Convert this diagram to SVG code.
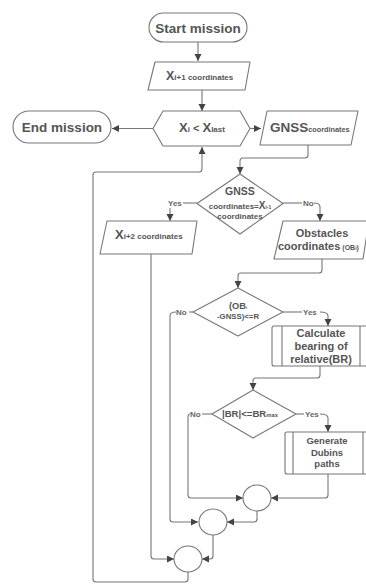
<svg xmlns="http://www.w3.org/2000/svg" width="366" height="584" viewBox="0 0 366 584">
<defs>
<marker id="ah" markerUnits="userSpaceOnUse" markerWidth="8" markerHeight="8" refX="7" refY="3.5" orient="auto">
<path d="M0,0 L7,3.5 L0,7 z" fill="#444"/>
</marker>
<style>
.s{fill:#fff;stroke:#777;stroke-width:1.1;stroke-linejoin:round}
.c{fill:none;stroke:#777;stroke-width:1.1}
.a{marker-end:url(#ah)}
text{font-family:"Liberation Sans",Arial,sans-serif;font-weight:bold;fill:#555}
.m{text-anchor:middle}
.l{font-size:8px;fill:#666}
</style>
</defs>
<rect width="366" height="584" fill="#fff"/>
<g id="connectors">
<path class="c a" d="M198,42 V61"/>
<path class="c a" d="M202,90 V111"/>
<path class="c a" d="M153,128.5 H112"/>
<path class="c a" d="M250,128.5 H261"/>
<path class="c a" d="M308,145 V155 Q308,158 305,158 H243 Q240,158 240,161 V174"/>
<path class="c" d="M197,203 H183"/>
<path class="c a" d="M170,208 V221"/>
<path class="c" d="M283,203 H302"/>
<path class="c a" d="M314,203 Q320,203 320,207 V221"/>
<path class="c a" d="M322,259 V270 Q322,273 319,273 H241 Q238,273 238,276 V288"/>
<path class="c" d="M193,312 H189"/>
<path class="c a" d="M176,312 Q170,312 170,316 V519 Q170,522 173,522 H198"/>
<path class="c" d="M283,312 H302"/>
<path class="c a" d="M320,312 Q328,312 328,316 V326"/>
<path class="c a" d="M320,366 V375 Q320,378 317,378 H256 Q253,378 253,381 V390"/>
<path class="c" d="M212,414 H202"/>
<path class="c a" d="M190,414 Q188,414 188,417 V495 Q188,498 191,498 H243"/>
<path class="c" d="M296,414 H304"/>
<path class="c a" d="M320,414 Q328,414 328,418 V432"/>
<path class="c a" d="M328,474 V495 Q328,498 325,498 H271"/>
<path class="c a" d="M257,511 V519 Q257,522 254,522 H227"/>
<path class="c a" d="M151,254 V556 Q151,559 154,559 H174"/>
<path class="c a" d="M213,535 V556 Q213,559 210,559 H202"/>
<path class="c a" d="M188,572 V579 Q188,582 185,582 H96 Q93,582 93,579 V175 Q93,172 96,172 H199 Q202,172 202,169 V147"/>
<text class="l" x="168" y="206">Yes</text>
<text class="l" x="303" y="206">No</text>
<text class="l" x="176" y="315">No</text>
<text class="l" x="303" y="315">Yes</text>
<text class="l" x="190" y="417">No</text>
<text class="l" x="305" y="417">Yes</text>
</g>
<g id="start">
<rect class="s" x="149" y="13" width="98" height="29" rx="14.5"/>
<text class="m" x="198" y="32.5" font-size="13.5">Start mission</text>
</g>
<g id="xi1">
<polygon class="s" points="155,62 250,62 245,90 148,90"/>
<text x="166" y="80"><tspan font-size="12.5">X</tspan><tspan font-size="8">i+1 coordinates</tspan></text>
</g>
<g id="cond">
<polygon class="s" points="153,128.5 163,111 240,111 250,128.5 240,146 163,146"/>
<text x="179" y="132"><tspan font-size="13">X</tspan><tspan font-size="8">i</tspan><tspan font-size="11"> &lt; </tspan><tspan font-size="13">X</tspan><tspan font-size="8">last</tspan></text>
</g>
<g id="end">
<rect class="s" x="13" y="111" width="98" height="32" rx="16"/>
<text class="m" x="62" y="132" font-size="13.5">End mission</text>
</g>
<g id="gnss">
<polygon class="s" points="267,111 358,111 351,145 260,145"/>
<text x="270" y="132"><tspan font-size="13.5">GNSS</tspan><tspan font-size="7.3">coordinates</tspan></text>
</g>
<g id="d1">
<polygon class="s" points="240,174 283,203.5 240,234 197,203.5"/>
<text class="m" x="240" y="195" font-size="10.5">GNSS</text>
<text class="m" x="240" y="209"><tspan font-size="8">coordinates=</tspan><tspan font-size="10">X</tspan><tspan font-size="5">i-1</tspan></text>
<text class="m" x="240" y="219" font-size="8">coordinates</text>
</g>
<g id="xi2">
<polygon class="s" points="107,221 197,221 192,254 100,254"/>
<text x="115" y="239"><tspan font-size="13">X</tspan><tspan font-size="8">i+2 coordinates</tspan></text>
</g>
<g id="obst">
<polygon class="s" points="283,221 369,221 363,259 274,259"/>
<text class="m" x="322" y="237" font-size="11">Obstacles</text>
<text x="278" y="250"><tspan font-size="11">coordinates</tspan><tspan font-size="7"> (OB</tspan><tspan font-size="5">i</tspan><tspan font-size="7">)</tspan></text>
</g>
<g id="d2">
<polygon class="s" points="238,288 283,312 238,336 193,312"/>
<text class="m" x="238" y="309"><tspan font-size="9.3">(OB</tspan><tspan font-size="4">i</tspan></text>
<text class="m" x="238" y="319" font-size="7.8">-GNSS)&lt;=R</text>
</g>
<g id="calc">
<rect class="s" x="272" y="326" width="100" height="40" rx="2"/>
<path class="c" d="M282,326 V366 M360,326 V366"/>
<text class="m" x="321" y="337" font-size="11">Calculate</text>
<text class="m" x="321" y="350" font-size="11">bearing of</text>
<text class="m" x="321" y="363" font-size="11">relative(BR)</text>
</g>
<g id="d3">
<polygon class="s" points="253,390 296,414 253,438 212,414"/>
<text x="222" y="417"><tspan font-size="9.6">|BR|&lt;=BR</tspan><tspan font-size="5.8">max</tspan></text>
</g>
<g id="dubins">
<rect class="s" x="285" y="432" width="90" height="42" rx="2"/>
<path class="c" d="M293,432 V474 M363,432 V474"/>
<text class="m" x="327" y="444" font-size="9.5">Generate</text>
<text class="m" x="327" y="456" font-size="9.5">Dubins</text>
<text class="m" x="327" y="467" font-size="9.5">paths</text>
</g>
<g id="j1"><ellipse class="s" cx="257" cy="498" rx="14" ry="13"/></g>
<g id="j2"><ellipse class="s" cx="213" cy="522" rx="14" ry="13"/></g>
<g id="j3"><ellipse class="s" cx="188" cy="559" rx="14" ry="13"/></g>
</svg>
